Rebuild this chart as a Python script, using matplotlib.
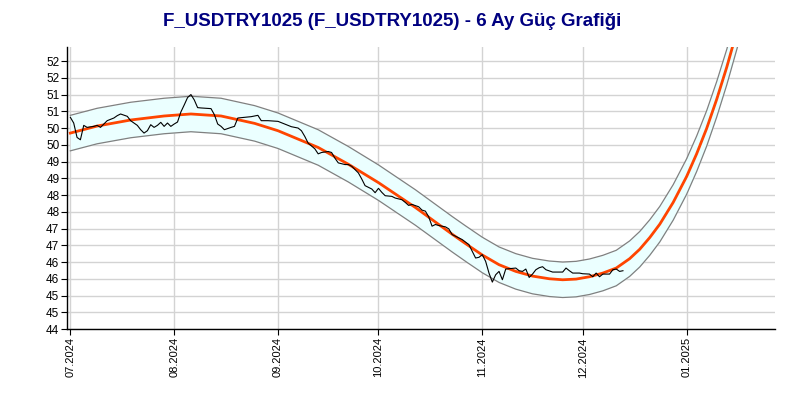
import math
import numpy as np
import matplotlib
matplotlib.use("Agg")
import matplotlib.pyplot as plt
import matplotlib.dates as mdates
from matplotlib.ticker import FuncFormatter, MultipleLocator

plt.rcParams['font.family'] = ['Liberation Sans', 'DejaVu Sans']

start = np.datetime64('2024-07-01')

# price (days after 01.07.2024)
price_day = [0, 1, 2, 3, 4, 5, 7, 8, 9, 10,
             11, 13, 14, 15, 17, 18, 20, 21, 22, 23,
             24, 25, 26, 27, 28, 29, 30, 31, 32, 33,
             34, 35, 36, 37, 38, 39, 42, 43, 44, 45,
             46, 48, 49, 50, 52, 54, 56, 57, 59, 62,
             64, 65, 66, 68, 69, 70, 71, 73, 74, 75,
             77, 78, 79, 80, 82, 83, 84, 86, 87, 88,
             90, 91, 92, 93, 94, 96, 97, 99, 100, 101,
             102, 104, 105, 106, 107, 108, 109, 110, 112, 113,
             114, 115, 117, 119, 120, 121, 122, 123, 124, 125,
             126, 127, 128, 129, 130, 131, 133, 134, 135, 136,
             137, 138, 139, 140, 141, 142, 144, 145, 147, 148,
             149, 150, 152, 153, 155, 156, 157, 158, 159, 160,
             161, 162, 163, 164, 165]
price_value = [50.32, 50.15, 49.72, 49.65, 50.08, 50.02, 50.05, 50.08, 50.02, 50.12,
               50.22, 50.30, 50.37, 50.42, 50.35, 50.22, 50.08, 49.95, 49.85, 49.92,
               50.10, 50.02, 50.08, 50.17, 50.05, 50.15, 50.05, 50.12, 50.18, 50.48,
               50.69, 50.91, 51.00, 50.84, 50.61, 50.60, 50.58, 50.40, 50.12, 50.05,
               49.95, 50.02, 50.05, 50.30, 50.32, 50.34, 50.38, 50.22, 50.22, 50.20,
               50.12, 50.08, 50.04, 50.00, 49.92, 49.75, 49.55, 49.38, 49.23, 49.27,
               49.30, 49.27, 49.10, 48.96, 48.91, 48.91, 48.86, 48.66, 48.48, 48.28,
               48.18, 48.07, 48.20, 48.08, 47.98, 47.96, 47.91, 47.86, 47.78, 47.69,
               47.72, 47.65, 47.55, 47.52, 47.35, 47.07, 47.12, 47.09, 47.05, 46.99,
               46.82, 46.77, 46.67, 46.52, 46.32, 46.12, 46.14, 46.22, 46.02, 45.67,
               45.40, 45.62, 45.72, 45.47, 45.79, 45.80, 45.82, 45.74, 45.72, 45.79,
               45.54, 45.64, 45.77, 45.83, 45.86, 45.77, 45.70, 45.70, 45.70, 45.82,
               45.74, 45.67, 45.67, 45.65, 45.64, 45.56, 45.67, 45.56, 45.64, 45.64,
               45.64, 45.77, 45.79, 45.72, 45.74]

# trend curve and channel
trend_day = [0, 8, 18, 28, 36, 45, 55, 62, 74, 83, 92, 103, 114, 118, 123, 128,
             133, 138, 143, 147, 151, 155, 159, 163, 167, 170, 173, 176, 180, 184,
             187, 190, 193, 196, 199, 201]
trend_value = [49.85, 50.06, 50.24, 50.36, 50.42, 50.36, 50.14, 49.92, 49.42, 48.92,
               48.37, 47.63, 46.83, 46.55, 46.21, 45.92, 45.72, 45.58, 45.50, 45.47,
               45.49, 45.56, 45.67, 45.82, 46.10, 46.38, 46.73, 47.13, 47.78, 48.55,
               49.23, 49.99, 50.86, 51.82, 52.88, 53.60]
band = 0.53

title = "F_USDTRY1025 (F_USDTRY1025) - 6 Ay Güç Grafiği"

px = start + np.array(price_day) * np.timedelta64(1, 'D')
tx = start + np.array(trend_day) * np.timedelta64(1, 'D')
tv = np.array(trend_value)

fig = plt.figure(figsize=(8, 4), dpi=100)
ax = fig.add_axes([67 / 800, 71 / 400, 708 / 800, 282 / 400])

ax.fill_between(tx, tv - band, tv + band, color='#ebffff', lw=0, zorder=1)
ax.plot(tx, tv + band, color='#808080', lw=0.9, zorder=2)
ax.plot(tx, tv - band, color='#808080', lw=0.9, zorder=2)
ax.plot(tx, tv, color='#ff4500', lw=2, zorder=3)
ax.plot(px, price_value, color='black', lw=0.8, zorder=4)

ax.set_xlim(mdates.date2num(np.datetime64('2024-06-30')),
            mdates.date2num(np.datetime64('2025-01-27')) + 0.4)
ax.set_ylim(44, 52.42)

ax.yaxis.set_major_locator(MultipleLocator(0.5))
ax.yaxis.set_major_formatter(FuncFormatter(lambda v, p: str(int(math.floor(v + 0.5)))))
ax.xaxis.set_major_locator(mdates.MonthLocator())
ax.xaxis.set_major_formatter(mdates.DateFormatter('%m.%Y'))

ax.grid(True, color='#d3d3d3', lw=1, zorder=0)
ax.set_axisbelow(True)
for s in ['top', 'right']:
    ax.spines[s].set_visible(False)
ax.spines['left'].set_linewidth(1)
ax.spines['bottom'].set_linewidth(1)

ax.tick_params(axis='y', labelsize=8.5, length=4, width=0.8, pad=1.5)
ax.tick_params(axis='x', labelsize=8, length=4, width=0.8, pad=2, labelrotation=90)

fig.text(392 / 800, 1 - 22 / 400, title, ha='center', va='center',
         fontsize=13.5, fontweight='bold', color='#000080')

fig.savefig('out.png', dpi=100)
